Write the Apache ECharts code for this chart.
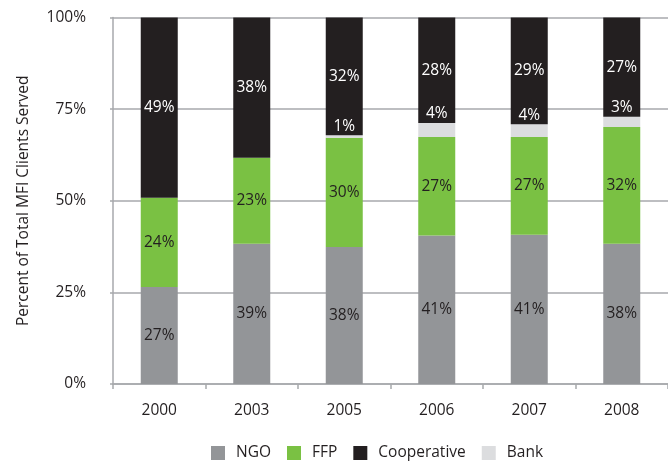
<!DOCTYPE html>
<html><head><meta charset="utf-8">
<script src="https://cdn.jsdelivr.net/npm/echarts@6/dist/echarts.min.js"></script>
<style>html,body{margin:0;padding:0;background:#fff}#c{width:668px;height:461px}</style>
</head><body><div id="c"></div>
<script>
const years = ['2000','2003','2005','2006','2007','2008'];
const ngo  = [26.5, 38.3, 37.4, 40.5, 40.7, 38.3];
const ffp  = [24.3, 23.4, 29.8, 26.9, 26.7, 31.8];
const bank = [0, 0, 0.7, 3.8, 3.5, 2.8];
const coop = [49.2, 38.3, 32.1, 28.8, 29.1, 27.1];
// printed labels
const ngoLbl  = ['27%','39%','38%','41%','41%','38%'];
const ffpLbl  = ['24%','23%','30%','27%','27%','32%'];
const bankLbl = ['','','1%','4%','4%','3%'];
const coopLbl = ['49%','38%','32%','28%','29%','27%'];
const yTicks = ['0%','25%','50%','75%','100%'];

const FONT = 'Open Sans';
const FS = 15.5;
const chart = echarts.init(document.getElementById('c'));
function lab(arr, color, pos) {
  return { show: true, position: pos || 'inside', color: color, fontFamily: FONT, fontSize: FS,
    formatter: p => arr[p.dataIndex] };
}
chart.setOption({
  animation: false,
  grid: { left: 113, top: 17.5, width: 559, bottom: 77 },
  legend: {
    top: 445, left: 211, padding: 0, itemWidth: 14, itemHeight: 14, itemGap: 16,
    icon: 'rect',
    textStyle: { fontFamily: FONT, fontSize: FS, color: '#231f20', padding: [0, 0, 0, 6] },
    data: ['NGO','FFP','Cooperative','Bank']
  },
  xAxis: {
    type: 'category', data: years,
    axisLine: { lineStyle: { color: '#a7a9ac', width: 1.5 } },
    axisTick: { show: true, length: 5, lineStyle: { color: '#a7a9ac', width: 1.5 } },
    axisLabel: { fontFamily: FONT, fontSize: FS, color: '#231f20', margin: 19 }
  },
  yAxis: {
    type: 'value', min: 0, max: 100, interval: 25,
    name: 'Percent of Total MFI Clients Served', nameLocation: 'middle', nameGap: 81,
    nameTextStyle: { fontFamily: FONT, fontSize: FS, color: '#231f20' },
    axisLine: { show: true, lineStyle: { color: '#a7a9ac', width: 1.5 } },
    axisTick: { show: true, length: 3, lineStyle: { color: '#a7a9ac', width: 1.5 } },
    splitLine: { lineStyle: { color: '#a7a9ac', width: 1.5 } },
    axisLabel: { fontFamily: FONT, fontSize: FS, color: '#231f20', margin: 27,
      formatter: v => yTicks[v / 25] }
  },
  series: [
    { name: 'NGO', type: 'bar', stack: 't', barWidth: 37, data: ngo,
      itemStyle: { color: '#939598' }, label: lab(ngoLbl, '#231f20') },
    { name: 'FFP', type: 'bar', stack: 't', barWidth: 37, data: ffp,
      itemStyle: { color: '#7ac143' }, label: lab(ffpLbl, '#231f20') },
    { name: 'Bank', type: 'bar', stack: 't', barWidth: 37, data: bank,
      itemStyle: { color: '#dcdddf' }, label: Object.assign(lab(bankLbl, '#ffffff', 'top'), { distance: 1 }) },
    { name: 'Cooperative', type: 'bar', stack: 't', barWidth: 37, data: coop,
      itemStyle: { color: '#231f20' }, label: lab(coopLbl, '#ffffff') }
  ]
});
</script></body></html>
